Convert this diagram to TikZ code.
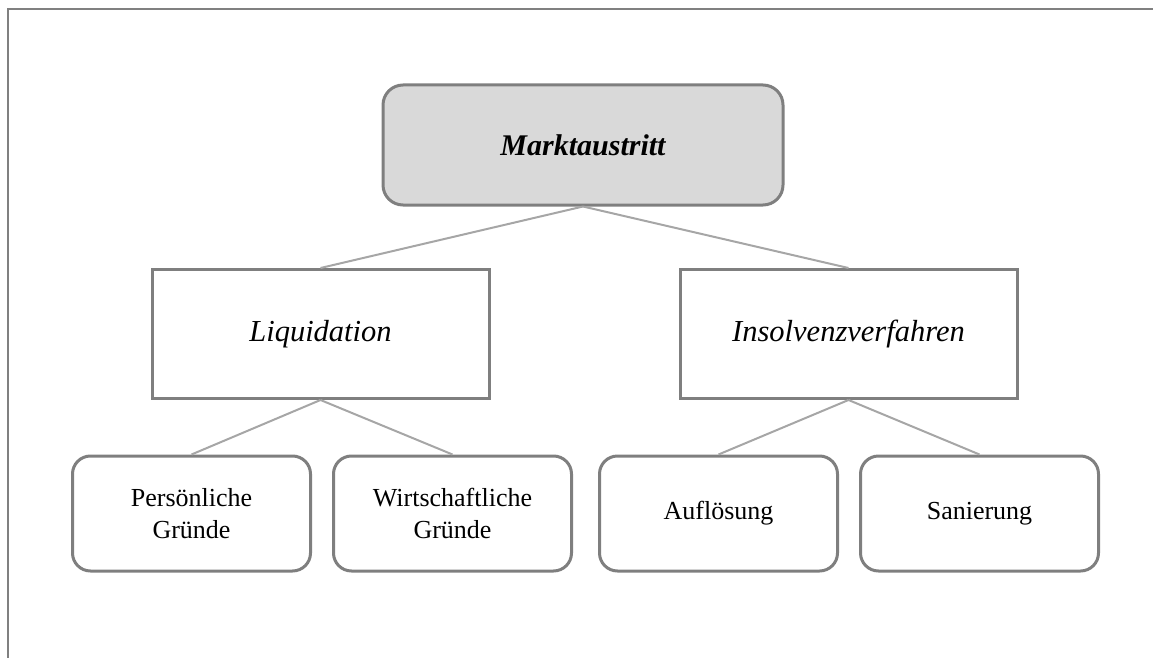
\documentclass[tikz,border=0pt]{standalone}
\usepackage{fontspec}
\setmainfont{Liberation Serif}
\usepackage{xcolor}

\definecolor{rahmengrau}{HTML}{808080}
\definecolor{kastengrau}{HTML}{7F7F7F}
\definecolor{liniengrau}{HTML}{A6A6A6}
\definecolor{kopffarbe}{HTML}{D9D9D9}

\begin{document}
\begin{tikzpicture}[x=1pt,y=-1pt,
    kasten/.style={draw=kastengrau,line width=3pt,align=center,inner sep=0pt},
    kopf/.style={kasten,rounded corners=20pt,fill=kopffarbe,minimum width=400pt,minimum height=120pt,font=\fontsize{30}{36}\selectfont\bfseries\itshape},
    weg/.style={kasten,minimum width=337pt,minimum height=129pt,font=\fontsize{30.5}{36}\selectfont\itshape},
    grund/.style={kasten,rounded corners=18pt,minimum width=238pt,minimum height=115pt,font=\fontsize{26}{32}\selectfont},
    ast/.style={draw=liniengrau,line width=2pt}]
        \useasboundingbox (0,0) rectangle (1153,658);

        % Rahmen (nur oben und links)
        \draw[rahmengrau,line width=2pt] (1153,9) -- (8,9) -- (8,658);

        % Oberste Ebene
        \node[kopf] (markt) at (583,145) {Marktaustritt};

        % Zweite Ebene
        \node[weg] (liq) at (320.5,334) {Liquidation};
        \node[weg] (insolv) at (848.5,334) {Insolvenzverfahren};

        % Dritte Ebene
        \node[grund] (pers) at (191.5,513.5) {Persönliche\\Gründe};
        \node[grund] (wirt) at (452.5,513.5) {Wirtschaftliche\\Gründe};
        \node[grund] (aufl) at (718.5,513.5) {Auflösung};
        \node[grund] (san) at (979.5,513.5) {Sanierung};

        % Verbindungen
        \draw[ast] (markt.south) -- (liq.north);
        \draw[ast] (markt.south) -- (insolv.north);
        \draw[ast] (liq.south) -- (pers.north);
        \draw[ast] (liq.south) -- (wirt.north);
        \draw[ast] (insolv.south) -- (aufl.north);
        \draw[ast] (insolv.south) -- (san.north);
    \end{tikzpicture}
\end{document}
